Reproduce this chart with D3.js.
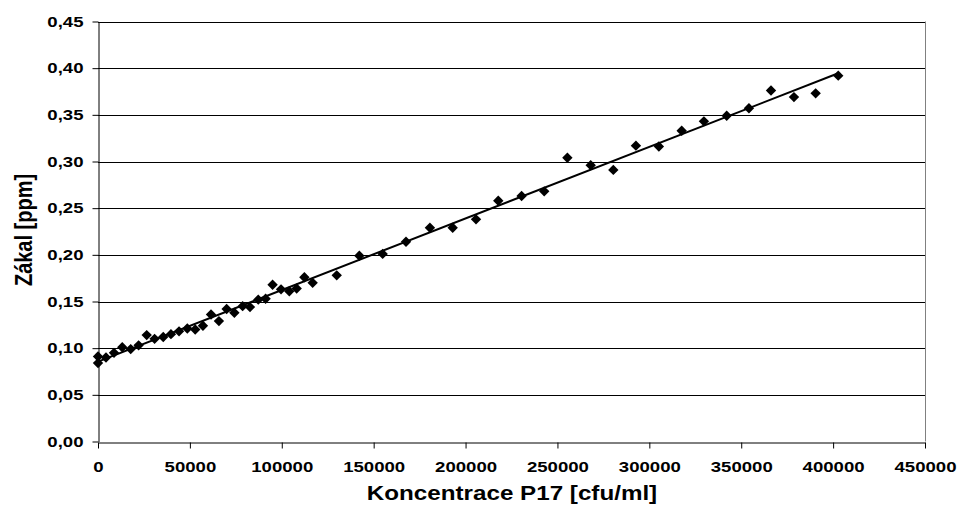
<!DOCTYPE html>
<html>
  <head>
  <title>Zakal</title>
  <style>
    body, html { margin: 0; padding: 0; background: #fff; }
    text { font-family: "Liberation Sans", Arial, sans-serif; font-weight: bold; }
  </style>
  </head>
  <body>

  <svg id="svg" width="960" height="511"></svg>

  <script src="https://d3js.org/d3.v7.min.js"></script>
  <script>
    // measured points (concentration, turbidity)
    const conc = [0, 0, 4350, 8700, 13200, 17800, 22100, 26500, 30800, 35500, 39700, 44100,
      48600, 52900, 57100, 61500, 65800, 70000, 74200, 78700, 82700, 87200, 91200, 95000,
      99600, 104100, 108100, 112300, 116800, 129900, 142200, 154900, 167600, 180600, 193000,
      205700, 217800, 230500, 242800, 255400, 268100, 280400, 292700, 305200, 317600, 329700,
      342100, 354200, 366200, 378700, 390500, 402800]
    const turb = [0.091, 0.084, 0.090, 0.095, 0.101, 0.099, 0.103, 0.114, 0.110, 0.112, 0.115, 0.118,
      0.121, 0.120, 0.124, 0.136, 0.129, 0.142, 0.138, 0.145, 0.144, 0.152, 0.153, 0.168,
      0.163, 0.161, 0.164, 0.176, 0.170, 0.178, 0.199, 0.201, 0.214, 0.229, 0.229,
      0.238, 0.258, 0.263, 0.268, 0.304, 0.296, 0.291, 0.317, 0.316, 0.333, 0.343,
      0.349, 0.357, 0.376, 0.369, 0.373, 0.392]
    const xTicks = [0, 50000, 100000, 150000, 200000, 250000, 300000, 350000, 400000, 450000]
    const yTicks = [0, 0.05, 0.1, 0.15, 0.2, 0.25, 0.3, 0.35, 0.4, 0.45]

    const data = conc.map((c, i) => ({ x: c, y: turb[i] }))

    const margin = { top: 21.5, right: 35, bottom: 70, left: 98 }
    const width = 925 - margin.left
    const height = 441.5 - margin.top
    const stretch = 1.24 // the original text is wider than it is tall

    const xscale = d3.scaleLinear().domain([0, 450000]).range([margin.left, margin.left + width])
    const yscale = d3.scaleLinear().domain([0, 0.45]).range([margin.top + height, margin.top])

    const svg = d3.select('#svg')

    // gridlines
    svg.append('g')
      .selectAll('line')
      .data(yTicks.slice(1))
      .enter()
      .append('line')
      .attr('x1', xscale(0))
      .attr('x2', xscale(450000))
      .attr('y1', d => Math.round(yscale(d)) + 0.5)
      .attr('y2', d => Math.round(yscale(d)) + 0.5)
      .attr('stroke', '#000')
      .attr('stroke-width', 1)

    // right border of plot area
    svg.append('line')
      .attr('x1', xscale(450000) + 0.5).attr('x2', xscale(450000) + 0.5)
      .attr('y1', yscale(0.45)).attr('y2', yscale(0))
      .attr('stroke', '#808080')

    // least squares trend line
    const mx = d3.mean(conc), my = d3.mean(turb)
    const slope = d3.sum(data, d => (d.x - mx) * (d.y - my)) / d3.sum(data, d => (d.x - mx) ** 2)
    const icpt = my - slope * mx
    const xmax = d3.max(conc)
    svg.append('line')
      .attr('x1', xscale(0)).attr('y1', yscale(icpt))
      .attr('x2', xscale(xmax)).attr('y2', yscale(icpt + slope * xmax))
      .attr('stroke', '#000')
      .attr('stroke-width', 2)

    // axes
    const bottomAxis = d3.axisBottom(xscale)
      .tickValues(xTicks)
      .tickFormat(d3.format('d'))
      .tickSizeInner(6).tickSizeOuter(0).tickPadding(12.5)
    const gx = svg.append('g')
      .attr('transform', `translate(0, ${Math.round(yscale(0)) + 0.5})`)
      .call(bottomAxis)
    gx.selectAll('text').attr('font-size', 15).attr('fill', '#000')
      .attr('transform', `scale(${stretch},1)`)
    gx.selectAll('line, path').attr('stroke', '#000')

    const ytf = v => d3.format('.2f')(v).replace('.', ',')
    const leftAxis = d3.axisLeft(yscale)
      .tickValues(yTicks)
      .tickFormat(ytf)
      .tickSizeInner(6).tickSizeOuter(0).tickPadding(9)
    const gy = svg.append('g')
      .attr('transform', `translate(${Math.round(xscale(0)) + 0.5}, 0)`)
      .call(leftAxis)
    gy.selectAll('text').attr('font-size', 15).attr('fill', '#000')
      .attr('x', -15 / stretch)
      .attr('transform', `scale(${stretch},1)`)
    gy.selectAll('line, path').attr('stroke', '#000')

    // markers
    svg.append('g')
      .selectAll('path')
      .data(data)
      .enter()
      .append('path')
      .attr('d', d3.symbol().type(d3.symbolSquare).size(54))
      .attr('transform', d => `translate(${xscale(d.x)}, ${yscale(d.y)}) rotate(45)`)
      .attr('fill', '#000')

    // titles
    svg.append('text')
      .attr('transform', `translate(512, 499.5) scale(1.21,1)`)
      .attr('text-anchor', 'middle')
      .attr('font-size', 20)
      .text('Koncentrace P17 [cfu/ml]')

    svg.append('text')
      .attr('transform', `translate(31.5, 230) scale(${stretch},1) rotate(-90)`)
      .attr('text-anchor', 'middle')
      .attr('font-size', 20)
      .text('Zákal [ppm]')
  </script>
  </body>
</html>
